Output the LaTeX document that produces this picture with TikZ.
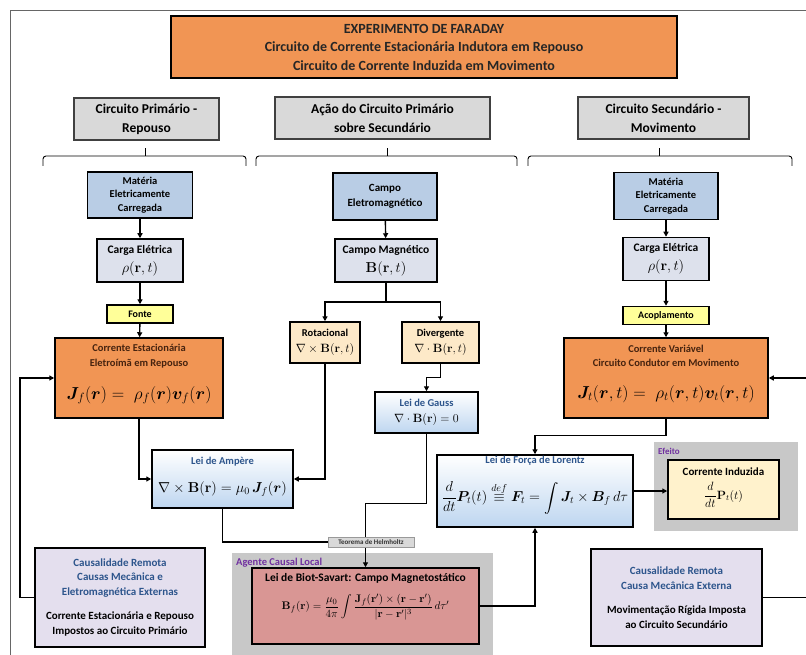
\documentclass[tikz,border=0pt]{standalone}
\usepackage{amsmath}
\usepackage{bm}
\usepackage[no-math]{fontspec}
\setmainfont{Carlito}
\usetikzlibrary{arrows.meta}
\definecolor{orangeF}{RGB}{241,149,84}
\definecolor{hdrG}{RGB}{217,217,217}
\definecolor{blueF}{RGB}{185,205,229}
\definecolor{cargaF}{RGB}{221,225,236}
\definecolor{yelF}{RGB}{255,255,153}
\definecolor{peachF}{RGB}{253,233,200}
\definecolor{lavF}{RGB}{228,223,238}
\definecolor{regG}{RGB}{200,200,200}
\definecolor{biotF}{RGB}{217,150,148}
\definecolor{induzF}{RGB}{255,242,204}
\definecolor{gradB}{RGB}{190,214,240}
\definecolor{titleBlue}{RGB}{45,85,140}
\definecolor{purpleT}{RGB}{112,48,160}
\definecolor{brownT}{RGB}{70,35,15}
\newcommand\fsz[2]{\fontsize{#1}{#2}\selectfont}
\begin{document}
\begin{tikzpicture}[x=1pt,y=-1pt,
  bx/.style={draw=black, line width=1.5pt, inner sep=0pt, align=center, font=\bfseries},
  hdr/.style={bx, fill=hdrG, draw=black!75, line width=1.2pt, font=\bfseries\fsz{13.5}{19}},
  txt/.style={inner sep=0pt, align=center, font=\bfseries},
  arr/.style={line width=1.4pt, -{Triangle[length=5pt,width=5pt]}},
  ln/.style={line width=1.4pt},
  grad/.style={top color=white, bottom color=gradB},
  brk/.style={line width=0.9pt, rounded corners=3pt}]
\useasboundingbox (0,0) rectangle (806,655);
\clip (0,0) rectangle (806,655);
\fill[white] (0,0) rectangle (806,655);
% frame
\draw[black!60, line width=0.9pt] (10,665) |- (815,10);
% title
\node[bx, fill=orangeF, minimum width=506pt, minimum height=62pt, font=\bfseries\fsz{14}{18.5}, text=black!85] (title) at (424,47)
  {EXPERIMENTO DE FARADAY\\Circuito de Corrente Estacionária Indutora em Repouso\\Circuito de Corrente Induzida em Movimento};
% headers
\node[hdr, minimum width=145pt, minimum height=42pt] (h1) at (146.5,119) {Circuito Primário -\\Repouso};
\node[hdr, minimum width=215pt, minimum height=42pt] (h2) at (382.5,118) {Ação do Circuito Primário\\sobre Secundário};
\node[hdr, minimum width=171pt, minimum height=42pt] (h3) at (663.5,118) {Circuito Secundário -\\Movimento};
% brackets
\draw[brk] (43,166) |- (145,156) -| (246,166);
\draw[line width=0.9pt] (145,156) -- (145,148);
\draw[brk] (256,166) |- (387,156) -| (517,166);
\draw[line width=0.9pt] (387,156) -- (387,148);
\draw[brk] (528,166) |- (659,156) -| (792,166);
\draw[line width=0.9pt] (659,156) -- (659,148);
% regions
\fill[regG] (232,553) rectangle (493,660);
\node[txt, anchor=west, text=purpleT, font=\bfseries\fsz{10.5}{12}] (agente) at (236,563) {Agente Causal Local};
\fill[regG] (654,442) rectangle (798,531);
\node[txt, anchor=west, text=purpleT, font=\bfseries\fsz{9}{11}] (efeito) at (658,451) {Efeito};
% left column
\node[bx, fill=blueF, minimum width=105pt, minimum height=46pt, font=\bfseries\fsz{10.5}{13.5}] (matL) at (140,195) {Matéria\\Eletricamente\\Carregada};
\node[bx, fill=cargaF, minimum width=86pt, minimum height=43pt, font=\bfseries\fsz{11.5}{19}] (cargaL) at (140,260.5) {Carga Elétrica\\{\fsz{14.4}{19}$\rho(\mathbf{r},t)$}};
\node[bx, fill=yelF, minimum width=66pt, minimum height=18pt, font=\bfseries\fsz{10}{11}] (fonte) at (140,314) {Fonte};
\node[bx, fill=orangeF, minimum width=168pt, minimum height=80pt] (corrL) at (139,378) {};
\node[txt, text=brownT, font=\bfseries\fsz{10.5}{14.5}] (corrLt) at (139,356) {Corrente Estacionária\\Eletroímã em Repouso};
\node[txt, font=\fsz{17.28}{20}] (corrLf) at (139,395) {$\bm{J}_f(\bm{r}) =\; \rho_f(\bm{r})\bm{v}_f(\bm{r})$};
% middle column
\node[bx, fill=blueF, minimum width=104pt, minimum height=47pt, font=\bfseries\fsz{11}{15}] (campoEM) at (385,196.5) {Campo\\Eletromagnético};
\node[bx, fill=cargaF, minimum width=102pt, minimum height=43pt, font=\bfseries\fsz{11.5}{19}] (campoM) at (386,260.5) {Campo Magnético\\{\fsz{14.4}{19}$\mathbf{B}(\mathbf{r},t)$}};
\node[bx, fill=peachF, minimum width=70pt, minimum height=41pt, font=\bfseries\fsz{10.5}{16}] (rot) at (325,342.5) {Rotacional\\{\fsz{12}{16}$\nabla\times\mathbf{B}(\mathbf{r},t)$}};
\node[bx, fill=peachF, minimum width=77pt, minimum height=41pt, font=\bfseries\fsz{10.5}{16}] (div) at (440.5,342.5) {Divergente\\{\fsz{12}{16}$\nabla\cdot\mathbf{B}(\mathbf{r},t)$}};
\node[bx, grad, minimum width=103pt, minimum height=41pt, font=\bfseries\fsz{10.5}{16}] (gauss) at (426.5,412.5) {\textcolor{titleBlue}{Lei de Gauss}\\{\fsz{12}{16}$\nabla\cdot\mathbf{B}(\mathbf{r})=0$}};
\node[bx, grad, minimum width=141pt, minimum height=58pt] (ampere) at (222.5,479) {};
\node[txt, text=titleBlue, font=\bfseries\fsz{10.5}{12}] (ampereT) at (222.5,462) {Lei de Ampère};
\node[txt, font=\fsz{14.4}{16}] (ampereF) at (222.5,489) {$\nabla\times\mathbf{B}(\mathbf{r}) = \mu_0\,\bm{J}_f(\bm{r})$};
% right column
\node[bx, fill=blueF, minimum width=104pt, minimum height=47pt, font=\bfseries\fsz{10.5}{13.5}] (matR) at (666,196) {Matéria\\Eletricamente\\Carregada};
\node[bx, fill=cargaF, minimum width=86pt, minimum height=43pt, font=\bfseries\fsz{11.5}{19}] (cargaR) at (666,259) {Carga Elétrica\\{\fsz{14.4}{19}$\rho(\mathbf{r},t)$}};
\node[bx, fill=yelF, minimum width=86pt, minimum height=18pt, font=\bfseries\fsz{10}{11}] (acop) at (666,315.5) {Acoplamento};
\node[bx, fill=orangeF, minimum width=204pt, minimum height=80pt] (corrR) at (666,378) {};
\node[txt, text=brownT, font=\bfseries\fsz{10.5}{14.5}] (corrRt) at (666,356) {Corrente Variável\\Circuito Condutor em Movimento};
\node[txt, font=\fsz{17.28}{20}] (corrRf) at (666,394) {$\bm{J}_t(\bm{r},t) =\; \rho_t(\bm{r},t)\bm{v}_t(\bm{r},t)$};
% Lorentz
\node[bx, grad, minimum width=196pt, minimum height=72pt] (lor) at (535,491) {};
\node[txt, text=titleBlue, font=\bfseries\fsz{10.5}{12}] (lorT) at (535,461) {Lei de Força de Lorentz};
\node[txt, font=\fsz{14.4}{16}] (lorF) at (535,498) {$\dfrac{d}{dt}\bm{P}_t(t) \overset{def}{\equiv} \bm{F}_t = \displaystyle\int \bm{J}_t\times\bm{B}_f\,d\tau$};
% induced
\node[bx, fill=induzF, minimum width=111pt, minimum height=59pt] (induz) at (723.5,489.5) {};
\node[txt, font=\bfseries\fsz{11}{12}] (induzT) at (723.5,472) {Corrente Induzida};
\node[txt, font=\fsz{12}{14}] (induzF) at (723.5,495) {$\dfrac{d}{dt}\mathbf{P}_t(t)$};
% Biot-Savart
\node[bx, fill=biotF, minimum width=227pt, minimum height=76pt] (biot) at (365.5,606) {};
\node[txt, font=\bfseries\fsz{11.5}{13}] (biotT) at (365.5,578) {Lei de Biot-Savart: Campo Magnetostático};
\node[txt, font=\fsz{10.95}{13}] (biotF) at (365.5,607) {$\mathbf{B}_f(\mathbf{r}) = \dfrac{\mu_0}{4\pi}\displaystyle\int\dfrac{\mathbf{J}_f(\mathbf{r}')\times(\mathbf{r}-\mathbf{r}')}{|\mathbf{r}-\mathbf{r}'|^3}\,d\tau'$};
% purple boxes
\node[bx, fill=lavF, minimum width=170pt, minimum height=99pt, font=\bfseries\fsz{11}{14.5}] (purL) at (120,597.5)
  {\textcolor{titleBlue}{Causalidade Remota}\\\textcolor{titleBlue}{Causas Mecânica e}\\\textcolor{titleBlue}{Eletromagnética Externas}\\[10pt]Corrente Estacionária e Repouso\\Impostos ao Circuito Primário};
\node[bx, fill=lavF, minimum width=171pt, minimum height=97pt, font=\bfseries\fsz{11}{15}] (purR) at (676.5,597.5)
  {\textcolor{titleBlue}{Causalidade Remota}\\\textcolor{titleBlue}{Causa Mecânica Externa}\\[9pt]Movimentação Rígida Imposta\\ao Circuito Secundário};
% connectors
\draw[arr] (matL) -- (cargaL);
\draw[arr] (cargaL) -- (fonte);
\draw[arr] (fonte) -- (corrL);
\draw[arr] (corrL.south) |- (ampere.west);
\draw[arr] (campoEM) -- (campoM);
\coordinate (split) at (386,302);
\draw[ln] (campoM.south) -- (split);
\draw[arr] (split) -| (rot.north);
\draw[arr] (split) -| (div.north);
\draw[arr] (div.south) -- ++(0,14) -| (gauss.north);
\draw[arr] (rot.south) |- (ampere.east);
\draw[arr] (gauss.south) -- ++(0,70) -| (biot.north);
\draw[arr] (biot.east) -| (lor.south);
\draw[arr] (matR) -- (cargaR);
\draw[arr] (cargaR) -- (acop);
\draw[arr] (acop) -- (corrR);
\draw[arr] (corrR.south) -- ++(0,17) -| (lor.north);
\draw[arr] (lor.east) -- (lor.east -| induz.west);
\coordinate (rc) at (815,597.5);
\draw[arr] (purR.east) -- (rc) |- (corrR.east);
\coordinate (lc) at (20,597.5);
\draw[arr] (purL.west) -- (lc) |- (corrL.west);
\node[txt, fill=hdrG, draw=black!40, line width=0.4pt, minimum width=86pt, minimum height=10pt, font=\bfseries\fsz{7}{8}, text=black!80] (helm) at (371,542) {Teorema de Helmholtz};
\draw[ln] (ampere.south) |- (helm.west);
\end{tikzpicture}
\end{document}
